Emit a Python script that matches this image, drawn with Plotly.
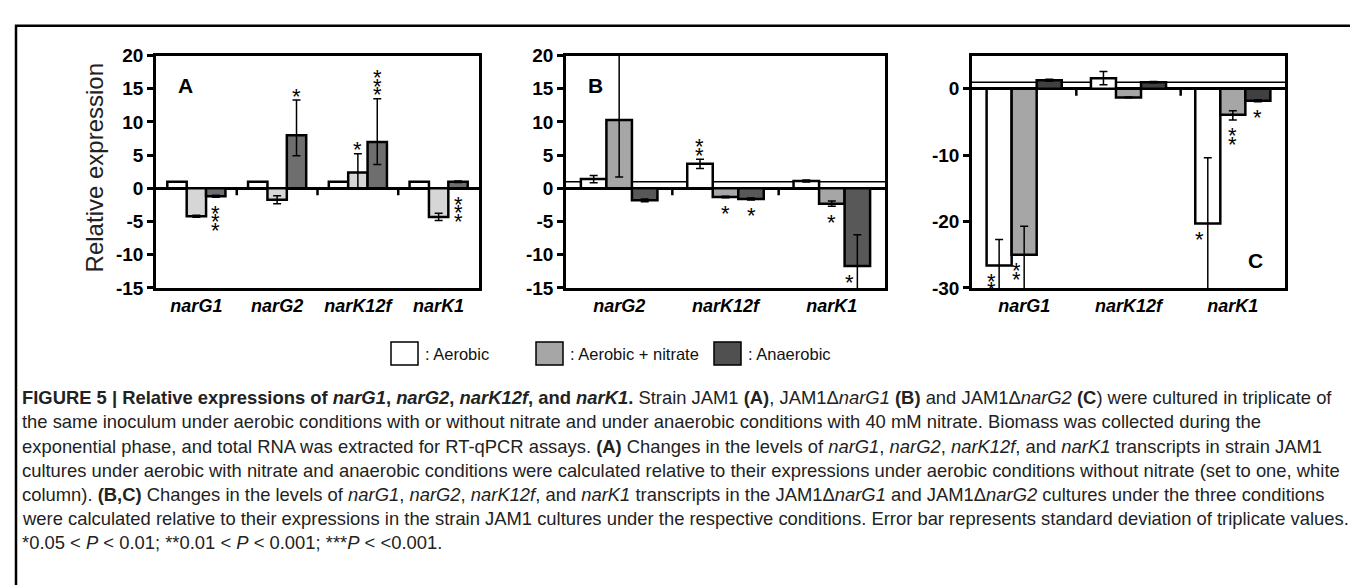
import plotly.graph_objects as go

W, H = 1358, 585

# ---------------- data ----------------
SERIES = ["Aerobic", "Aerobic + nitrate", "Anaerobic"]

# Panel A : strain JAM1
A_CATS = ["narG1", "narG2", "narK12f", "narK1"]
A_AEROBIC = [1.0, 1.0, 1.0, 1.0]
A_AEROBIC_EP = [0.0, 0.0, 0.0, 0.0]
A_AEROBIC_EM = [0.0, 0.0, 0.0, 0.0]
A_NITRATE = [-4.2, -1.7, 2.4, -4.3]
A_NITRATE_EP = [0.15, 0.6, 2.8, 0.55]
A_NITRATE_EM = [0.15, 0.6, 2.4, 0.55]
A_ANAEROBIC = [-1.2, 8.0, 7.0, 1.0]
A_ANAEROBIC_EP = [0.15, 5.3, 6.5, 0.1]
A_ANAEROBIC_EM = [0.15, 3.1, 3.4, 0.1]
A_STARS = [(0, 2, 3, "down"), (1, 2, 1, "up"), (2, 1, 1, "up"), (2, 2, 3, "up"), (3, 2, 3, "down")]

# Panel B : JAM1 delta narG1
B_CATS = ["narG2", "narK12f", "narK1"]
B_AEROBIC = [1.4, 3.7, 1.1]
B_AEROBIC_EP = [0.55, 0.7, 0.15]
B_AEROBIC_EM = [0.55, 0.7, 0.15]
B_NITRATE = [10.3, -1.3, -2.3]
B_NITRATE_EP = [10.5, 0.1, 0.4]
B_NITRATE_EM = [8.6, 0.1, 0.4]
B_ANAEROBIC = [-1.8, -1.6, -11.7]
B_ANAEROBIC_EP = [0.2, 0.15, 4.7]
B_ANAEROBIC_EM = [0.2, 0.15, 4.7]
B_STARS = [(1, 0, 2, "up"), (1, 1, 1, "down"), (1, 2, 1, "down"), (2, 1, 1, "down"), (2, 2, 1, "down")]

# Panel C : JAM1 delta narG2
C_CATS = ["narG1", "narK12f", "narK1"]
C_AEROBIC = [-26.6, 1.6, -20.3]
C_AEROBIC_EP = [3.9, 1.0, 9.9]
C_AEROBIC_EM = [3.9, 1.0, 9.9]
C_NITRATE = [-25.0, -1.3, -3.9]
C_NITRATE_EP = [4.3, 0.05, 0.6]
C_NITRATE_EM = [5.5, 0.05, 0.8]
C_ANAEROBIC = [1.3, 1.0, -1.8]
C_ANAEROBIC_EP = [0.15, 0.1, 0.15]
C_ANAEROBIC_EM = [0.15, 0.1, 0.15]
C_STARS = [(0, 0, 2, "down"), (0, 1, 2, "down"), (2, 0, 1, "down"), (2, 1, 2, "down"), (2, 2, 1, "down")]

REF_LEVEL = 1  # relative expression of the reference condition

A_TICKS = [-15, -10, -5, 0, 5, 10, 15, 20]
B_TICKS = [-15, -10, -5, 0, 5, 10, 15, 20]
C_TICKS = [-30, -20, -10, 0]

CAPTION_LINES = [
    "<b>FIGURE 5 | Relative expressions of <i>narG1</i>, <i>narG2</i>, <i>narK12f</i>, and <i>narK1</i>.</b> Strain JAM1 <b>(A)</b>, JAM1\u0394<i>narG1</i> <b>(B)</b> and JAM1\u0394<i>narG2</i> <b>(C</b>) were cultured in triplicate of",
    "the same inoculum under aerobic conditions with or without nitrate and under anaerobic conditions with 40 mM nitrate. Biomass was collected during the",
    "exponential phase, and total RNA was extracted for RT-qPCR assays. <b>(A)</b> Changes in the levels of <i>narG1</i>, <i>narG2</i>, <i>narK12f</i>, and <i>narK1</i> transcripts in strain JAM1",
    "cultures under aerobic with nitrate and anaerobic conditions were calculated relative to their expressions under aerobic conditions without nitrate (set to one, white",
    "column). <b>(B,C)</b> Changes in the levels of <i>narG1</i>, <i>narG2</i>, <i>narK12f</i>, and <i>narK1</i> transcripts in the JAM1\u0394<i>narG1</i> and JAM1\u0394<i>narG2</i> cultures under the three conditions",
    "were calculated relative to their expressions in the strain JAM1 cultures under the respective conditions. Error bar represents standard deviation of triplicate values.",
    "*0.05 &lt; <i>P</i> &lt; 0.01; **0.01 &lt; <i>P</i> &lt; 0.001; ***<i>P</i> &lt; &lt;0.001.",
]

# ---------------- style ----------------
FONT_CHART = "Liberation Sans, Arial, sans-serif"
FONT_REG = "Liberation Sans, Arial, sans-serif"
FONT_CAP = "Liberation Sans, Arial, sans-serif"
LW = 2.5
BARGAP = 0.28


def px(x):
    return x / W


def py(y):
    return 1 - y / H


panels = [
    dict(cats=A_CATS, vals=[A_AEROBIC, A_NITRATE, A_ANAEROBIC],
         ep=[A_AEROBIC_EP, A_NITRATE_EP, A_ANAEROBIC_EP],
         em=[A_AEROBIC_EM, A_NITRATE_EM, A_ANAEROBIC_EM],
         stars=A_STARS, ticks=A_TICKS, rng=[-15, 20],
         colors=["#ffffff", "#d6d6d6", "#6e6e6e"], dom=[148, 471], ref=False,
         label="A", label_xy=(177, 70)),
    dict(cats=B_CATS, vals=[B_AEROBIC, B_NITRATE, B_ANAEROBIC],
         ep=[B_AEROBIC_EP, B_NITRATE_EP, B_ANAEROBIC_EP],
         em=[B_AEROBIC_EM, B_NITRATE_EM, B_ANAEROBIC_EM],
         stars=B_STARS, ticks=B_TICKS, rng=[-15, 20],
         colors=["#ffffff", "#a6a6a6", "#585858"], dom=[558, 877], ref=True,
         label="B", label_xy=(587, 70)),
    dict(cats=C_CATS, vals=[C_AEROBIC, C_NITRATE, C_ANAEROBIC],
         ep=[C_AEROBIC_EP, C_NITRATE_EP, C_ANAEROBIC_EP],
         em=[C_AEROBIC_EM, C_NITRATE_EM, C_ANAEROBIC_EM],
         stars=C_STARS, ticks=C_TICKS, rng=[-30, 5],
         colors=["#ffffff", "#a6a6a6", "#404040"], dom=[964, 1277], ref=True,
         label="C", label_xy=(1247, 252)),
]

PLOT_TOP, PLOT_BOTTOM = 39, 280

fig = go.Figure()
shapes = []
annotations = []
layout_axes = {}

for p_i, p in enumerate(panels):
    sfx = "" if p_i == 0 else str(p_i + 1)
    xa, ya = "x" + sfx, "y" + sfx
    n = len(p["cats"])
    xs = list(range(n))
    for s_i in range(3):
        fig.add_trace(go.Bar(
            x=xs, y=p["vals"][s_i], name=SERIES[s_i], xaxis=xa, yaxis=ya,
            marker=dict(color=p["colors"][s_i], line=dict(color="black", width=LW)),
            error_y=dict(type="data", symmetric=False, array=p["ep"][s_i],
                         arrayminus=p["em"][s_i], color="black", thickness=1.5, width=4),
            showlegend=False, offsetgroup=str(s_i),
        ))
    layout_axes["xaxis" + sfx] = dict(
        domain=[px(p["dom"][0]), px(p["dom"][1])], anchor=ya,
        range=[-0.5, n - 0.5], tickvals=xs,
        ticktext=["<b><i>%s</i></b>" % c for c in p["cats"]],
        tickfont=dict(family=FONT_CHART, size=18, color="black"),
        showline=True, mirror=True, linewidth=LW, linecolor="black",
        ticks="", showgrid=False, zeroline=False, fixedrange=True,
    )
    layout_axes["yaxis" + sfx] = dict(
        domain=[py(PLOT_BOTTOM), py(PLOT_TOP)], anchor=xa,
        range=p["rng"], tickvals=p["ticks"], ticktext=["<b>%d</b>" % t for t in p["ticks"]],
        tickfont=dict(family=FONT_CHART, size=19, color="black"),
        showline=True, mirror=True, linewidth=LW, linecolor="black",
        ticks="outside", ticklen=6, tickwidth=LW, tickcolor="black",
        showgrid=False, zeroline=True, zerolinewidth=LW, zerolinecolor="black",
        fixedrange=True,
    )
    # category separators on the zero line
    for i in range(n - 1):
        shapes.append(dict(type="line", xref=xa, yref=ya, x0=i + 0.5, x1=i + 0.5,
                           ysizemode="pixel", yanchor=0, y0=0, y1=-7,
                           line=dict(color="black", width=LW)))
    if p["ref"]:
        shapes.append(dict(type="line", xref=xa + " domain", yref=ya, x0=0, x1=1,
                           y0=REF_LEVEL, y1=REF_LEVEL, layer="below",
                           line=dict(color="black", width=1.5)))
    # significance stars
    bw = (1 - BARGAP) / 3
    for (ci, si, cnt, side) in p["stars"]:
        v = p["vals"][si][ci]
        xpos = ci + (si - 1) * bw
        xshift = 0
        if side == "up":
            base = max(0, v + p["ep"][si][ci])
            offs = [6 + 4 + k * 8.5 for k in range(cnt)]
        else:
            base = min(0, v - p["em"][si][ci])
            if base < p["rng"][0]:
                base = v
                xshift = -8
            offs = [-(10 + k * 8.5) for k in range(cnt)]
        for o in offs:
            annotations.append(dict(text="*", x=xpos, y=base, xref=xa, yref=ya,
                                    showarrow=False, xanchor="center", yanchor="middle",
                                    yshift=o - 6, xshift=xshift,
                                    font=dict(family=FONT_REG, size=22, color="black")))
    annotations.append(dict(text="<b>%s</b>" % p["label"], x=px(p["label_xy"][0]),
                            y=py(p["label_xy"][1]), xref="paper", yref="paper",
                            showarrow=False, xanchor="center", yanchor="middle",
                            font=dict(family=FONT_REG, size=21, color="black")))

# y title
annotations.append(dict(text="Relative expression", x=px(86), y=py(156), xref="paper", yref="paper",
                        textangle=-90, showarrow=False, xanchor="center", yanchor="middle",
                        font=dict(family=FONT_REG, size=24, color="#222222")))

# legend (manual)
LEG_Y = 348
leg_items = [(383, "#ffffff"), (528, "#a6a6a6"), (706, "#505050")]
for (lx, col), name in zip(leg_items, SERIES):
    shapes.append(dict(type="rect", xref="paper", yref="paper",
                       x0=px(lx), x1=px(lx + 27), y0=py(LEG_Y - 12), y1=py(LEG_Y + 12),
                       fillcolor=col, line=dict(color="black", width=1.5)))
    annotations.append(dict(text=": " + name, x=px(lx + 32), y=py(LEG_Y), xref="paper", yref="paper",
                            showarrow=False, xanchor="left", yanchor="middle",
                            font=dict(family=FONT_CAP, size=16.5, color="#111111")))

# caption
CAP_Y0, CAP_DY = 394, 25
for k, line in enumerate(CAPTION_LINES):
    annotations.append(dict(text=line, x=px(12), y=py(CAP_Y0 + k * CAP_DY), xref="paper", yref="paper",
                            showarrow=False, xanchor="left", yanchor="middle",
                            font=dict(family=FONT_CAP, size=18.4, color="#222222")))

# outer frame
shapes.append(dict(type="rect", xref="paper", yref="paper", x0=px(8), x1=px(1355),
                   y0=py(610), y1=py(8), line=dict(color="black", width=2.5)))

fig.update_layout(
    width=W, height=H, margin=dict(l=0, r=0, t=0, b=0),
    paper_bgcolor="white", plot_bgcolor="white",
    barmode="group", bargap=BARGAP, bargroupgap=0,
    shapes=shapes, annotations=annotations, showlegend=False,
    **layout_axes,
)

fig.write_html("out.html")
